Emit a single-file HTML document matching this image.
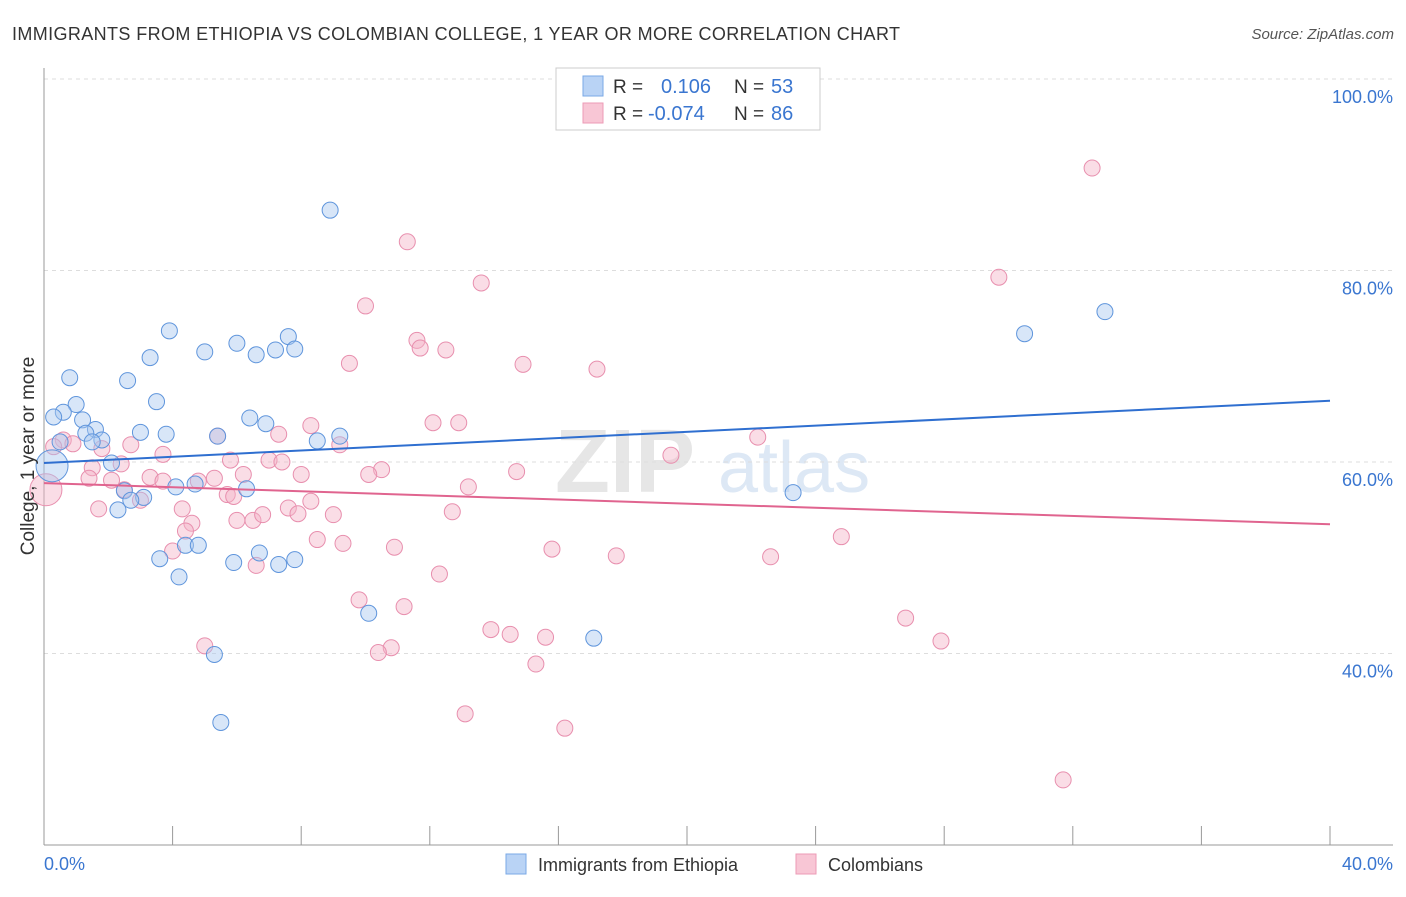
<!DOCTYPE html>
<html><head><meta charset="utf-8"><style>
body{margin:0;background:#fff;font-family:"Liberation Sans",sans-serif}
svg text{font-family:"Liberation Sans",sans-serif}
</style></head><body>
<svg id="chart" width="1406" height="892" xmlns="http://www.w3.org/2000/svg">
<text x="12" y="40" font-size="18" fill="#333" textLength="888" lengthAdjust="spacing">IMMIGRANTS FROM ETHIOPIA VS COLOMBIAN COLLEGE, 1 YEAR OR MORE CORRELATION CHART</text>
<text x="1394" y="39" font-size="15" fill="#555" text-anchor="end" font-style="italic">Source: ZipAtlas.com</text>
<text x="555" y="492" font-size="90" fill="#e6e6e6" font-family="Liberation Serif" font-weight="bold">ZIP</text>
<text x="718" y="492" font-size="72" fill="#dde8f5">atlas</text>
<g id="grid"></g>
<g id="axes"></g>
<g id="marks"></g>
<text transform="translate(34,456) rotate(-90)" font-size="19" fill="#333" text-anchor="middle">College, 1 year or more</text>
<g>
<rect x="556" y="68" width="264" height="62" fill="#fff" stroke="#ccc"/>
<rect x="583" y="76" width="20" height="20" fill="#b9d3f5" stroke="#7aa8e6"/>
<text x="613" y="93" font-size="19" fill="#333">R =</text>
<text x="661" y="93" font-size="20" fill="#3a76d0">0.106</text>
<text x="734" y="93" font-size="19" fill="#333">N =</text>
<text x="771" y="93" font-size="20" fill="#3a76d0">53</text>
<rect x="583" y="103" width="20" height="20" fill="#f8c6d5" stroke="#ec9bb6"/>
<text x="613" y="120" font-size="19" fill="#333">R =</text>
<text x="648" y="120" font-size="20" fill="#3a76d0">-0.074</text>
<text x="734" y="120" font-size="19" fill="#333">N =</text>
<text x="771" y="120" font-size="20" fill="#3a76d0">86</text>
</g>
<g>
<rect x="506" y="854" width="20" height="20" fill="#b9d3f5" stroke="#7aa8e6"/>
<text x="538" y="871" font-size="18" fill="#333">Immigrants from Ethiopia</text>
<rect x="796" y="854" width="20" height="20" fill="#f8c6d5" stroke="#ec9bb6"/>
<text x="828" y="871" font-size="18" fill="#333">Colombians</text>
</g>
</svg>
<script>
const blueX=[8.9,33.0,30.5,3.9,7.6,6.0,5.0,7.2,7.8,6.6,3.3,0.8,2.6,3.5,1.0,0.6,0.3,1.2,6.4,6.9,1.6,3.0,3.8,5.4,9.2,8.5,1.3,0.5,1.8,1.5,2.1,0.25,23.3,4.1,4.7,6.3,2.5,3.1,2.7,2.3,4.4,4.8,6.7,3.6,5.9,7.3,7.8,4.2,10.1,17.1,5.3,5.5];
const blueY=[86.3,75.7,73.4,73.7,73.1,72.4,71.5,71.7,71.8,71.2,70.9,68.8,68.5,66.3,66.0,65.2,64.7,64.4,64.6,64.0,63.4,63.1,62.9,62.7,62.7,62.2,63.0,62.1,62.3,62.1,59.9,59.6,56.8,57.4,57.7,57.2,57.0,56.3,56.0,55.0,51.3,51.3,50.5,49.9,49.5,49.3,49.8,48.0,44.2,41.6,39.9,32.8];
const pinkX=[32.6,11.3,29.7,13.6,10.0,11.6,11.7,12.5,9.5,14.9,17.2,12.1,12.9,8.3,9.2,2.7,0.6,0.9,0.3,1.8,5.4,7.3,22.2,19.5,7.0,7.4,1.5,2.4,10.5,10.1,14.7,6.2,8.0,3.3,3.7,5.3,4.8,1.4,2.1,13.2,5.7,5.9,2.5,3.0,8.3,7.6,7.9,1.7,4.3,12.7,9.0,6.0,6.5,6.8,4.6,4.4,8.5,9.3,4.0,10.9,15.8,17.8,22.6,24.8,6.6,12.3,9.8,11.2,13.9,14.5,15.6,26.8,27.9,5.0,10.8,10.4,15.3,13.1,16.2,31.7,3.7,0.06,5.8];
const pinkY=[90.7,83.0,79.3,78.7,76.3,72.7,71.9,71.7,70.3,70.2,69.7,64.1,64.1,63.8,61.8,61.8,62.3,61.9,61.6,61.4,62.7,62.9,62.6,60.7,60.2,60.0,59.4,59.8,59.2,58.7,59.0,58.7,58.7,58.4,58.0,58.3,58.0,58.3,58.1,57.4,56.6,56.4,57.1,56.0,55.9,55.2,54.6,55.1,55.1,54.8,54.5,53.9,53.9,54.5,53.6,52.8,51.9,51.5,50.7,51.1,50.9,50.2,50.1,52.2,49.2,48.3,45.6,44.9,42.5,42.0,41.7,43.7,41.3,40.8,40.6,40.1,38.9,33.7,32.2,26.8,60.8,57.1,60.2];
const blueTrend=[59.9,66.4];
const pinkTrend=[57.8,53.5];
const yTicks=[100,80,60,40];
const xTickLabels=["0.0%","40.0%"];
const NS="http://www.w3.org/2000/svg";
const sx=v=>44+v*32.15;
const sy=v=>79+(100-v)*9.575;
function mk(tag,attrs,parent){const e=document.createElementNS(NS,tag);for(const k in attrs)e.setAttribute(k,attrs[k]);parent.appendChild(e);return e;}
const grid=document.getElementById('grid'),axes=document.getElementById('axes'),marks=document.getElementById('marks');
yTicks.forEach(t=>{
 const l=mk('line',{x1:44,x2:1393,y1:sy(t),y2:sy(t),stroke:'#ddd','stroke-dasharray':'4,4'},grid);
 
 
 const tx=mk('text',{x:1393,y:sy(t)+24,'font-size':18,fill:'#3a76d0','text-anchor':'end'},axes);
 tx.textContent=t.toFixed(1)+'%';
 
 
});
const ya=mk('line',{x1:44,x2:44,y1:68,y2:845,stroke:'#999'},axes);


const xa=mk('line',{x1:44,x2:1393,y1:845,y2:845,stroke:'#999'},axes);


for(let i=1;i<=10;i++){const t=mk('line',{x1:sx(i*4),x2:sx(i*4),y1:826,y2:845,stroke:'#999'},axes);
 
 }
[[0,'start',44],[40,'end',1393]].forEach((a,i)=>{const t=mk('text',{x:a[2],y:870,'font-size':18,fill:'#3a76d0','text-anchor':a[1]},axes);t.textContent=xTickLabels[i];
 
 });
function pts(X,Y,fill,stroke,name){X.forEach((x,i)=>{const big=x<0.3&&(i===31||i===81);const c=mk('circle',{cx:sx(x),cy:sy(Y[i]),r:big?16:8,fill:fill,'fill-opacity':0.45,stroke:stroke,'stroke-width':1},marks);
 
 });}
pts(pinkX,pinkY,'#f5b3c8','#e88fae','colombians-point');
pts(blueX,blueY,'#a9c8f0','#5f95dc','ethiopia-point');
const bl=mk('line',{x1:sx(0),y1:sy(blueTrend[0]),x2:sx(40),y2:sy(blueTrend[1]),stroke:'#2f6fd0','stroke-width':2},marks);


const pl=mk('line',{x1:sx(0),y1:sy(pinkTrend[0]),x2:sx(40),y2:sy(pinkTrend[1]),stroke:'#e0648f','stroke-width':2},marks);


</script>
</body></html>
